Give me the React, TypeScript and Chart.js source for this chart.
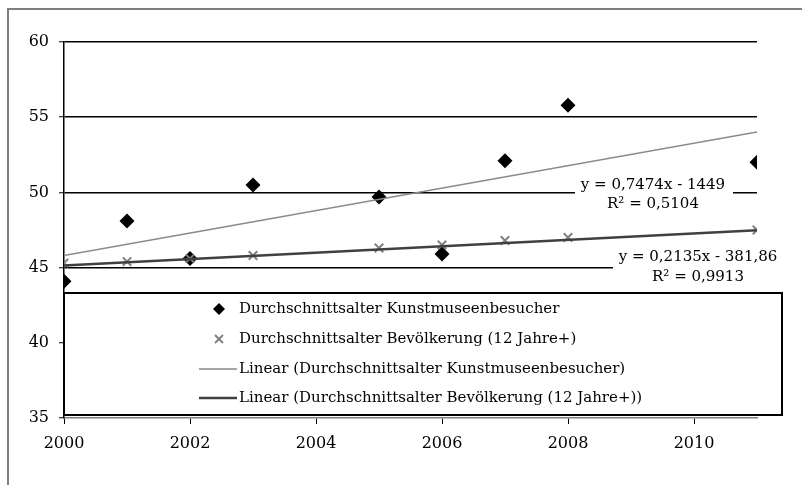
import { useEffect, useRef } from "react";
import { Chart, registerables } from "chart.js";

Chart.register(...registerables);

// ---- data ----
const years = [2000, 2001, 2002, 2003, 2005, 2006, 2007, 2008, 2011];
const museumAge = [44.1, 48.1, 45.6, 50.5, 49.7, 45.9, 52.1, 55.8, 52.0];
const populationAge = [45.3, 45.4, 45.6, 45.8, 46.3, 46.5, 46.8, 47.0, 47.5];
const seriesLabels = [
  "Durchschnittsalter Kunstmuseenbesucher",
  "Durchschnittsalter Bevölkerung (12 Jahre+)",
];
const trendSlopes = [0.7474, 0.2135];
const trendIntercepts = [-1449, -381.86];
const trendR2 = [0.5104, 0.9913];
const yMin = 35;
const yMax = 60;
const yStep = 5;
const xMin = 2000;
const xMax = 2011;
const xStep = 2;

const FONT = "'DejaVu Serif', 'Liberation Serif', serif";

const de = (v: number) => String(v).replace(".", ",");
const eqText = (i: number) =>
  `y = ${de(trendSlopes[i])}x ${trendIntercepts[i] < 0 ? "-" : "+"} ${de(Math.abs(trendIntercepts[i]))}`;
const r2Text = (i: number) => `R² = ${trendR2[i].toFixed(4).replace(".", ",")}`;

const trendData = (i: number) =>
  [years[0], years[years.length - 1]].map((x) => ({
    x,
    y: trendSlopes[i] * x + trendIntercepts[i],
  }));

function drawDiamond(ctx: CanvasRenderingContext2D, x: number, y: number, r: number) {
  ctx.beginPath();
  ctx.moveTo(x, y - r);
  ctx.lineTo(x + r, y);
  ctx.lineTo(x, y + r);
  ctx.lineTo(x - r, y);
  ctx.closePath();
  ctx.fill();
}
function drawCross(ctx: CanvasRenderingContext2D, x: number, y: number, r: number) {
  ctx.beginPath();
  ctx.moveTo(x - r, y - r);
  ctx.lineTo(x + r, y + r);
  ctx.moveTo(x + r, y - r);
  ctx.lineTo(x - r, y + r);
  ctx.stroke();
}

const decorPlugin = {
  id: "decor",
  beforeDraw(chart: any) {
    const ctx = chart.ctx as CanvasRenderingContext2D;
    ctx.save();
    ctx.fillStyle = "#fff";
    ctx.fillRect(0, 0, chart.width, chart.height);
    ctx.strokeStyle = "#7f7f7f";
    ctx.lineWidth = 2;
    ctx.beginPath();
    ctx.moveTo(8, chart.height + 5);
    ctx.lineTo(8, 9);
    ctx.lineTo(chart.width + 5, 9);
    ctx.stroke();
    ctx.restore();
  },
  afterDraw(chart: any) {
    const ctx = chart.ctx as CanvasRenderingContext2D;
    const area = chart.chartArea;
    ctx.save();
    // trendline labels
    const labels = [
      { box: [575, 176, 158, 37], cx: 653, y1: 185, y2: 204 },
      { box: [613, 246, 180, 42], cx: 698, y1: 257, y2: 277 },
    ];
    ctx.font = `15px ${FONT}`;
    ctx.textAlign = "center";
    ctx.textBaseline = "middle";
    labels.forEach((l, i) => {
      ctx.fillStyle = "#fff";
      ctx.fillRect(l.box[0], l.box[1], l.box[2], l.box[3]);
      ctx.fillStyle = "#000";
      ctx.fillText(eqText(i), l.cx, l.y1);
      ctx.fillText(r2Text(i), l.cx, l.y2);
    });

    // legend box
    const lx = area.left;
    const ly = 293;
    const lw = 718;
    const lh = 122;
    ctx.fillStyle = "#fff";
    ctx.fillRect(lx, ly, lw, lh);
    ctx.strokeStyle = "#000";
    ctx.lineWidth = 2;
    ctx.strokeRect(lx, ly, lw, lh);

    const ds = chart.data.datasets;
    const rowsY = [309, 339, 369, 398];
    const markX = 219;
    const textX = 239;
    ctx.textAlign = "left";
    ds.forEach((d: any, i: number) => {
      const y = rowsY[i];
      if (i === 0) {
        ctx.fillStyle = d.pointBackgroundColor;
        drawDiamond(ctx, markX, y, 6);
      } else if (i === 1) {
        ctx.strokeStyle = d.pointBorderColor;
        ctx.lineWidth = 2;
        drawCross(ctx, markX, y, 4);
      } else {
        ctx.strokeStyle = d.borderColor;
        ctx.lineWidth = d.borderWidth;
        ctx.beginPath();
        ctx.moveTo(199, y);
        ctx.lineTo(textX - 2, y);
        ctx.stroke();
      }
      ctx.fillStyle = "#000";
      ctx.fillText(d.label, textX, y);
    });
    ctx.restore();
  },
};

export default function App() {
  const ref = useRef<HTMLCanvasElement | null>(null);

  useEffect(() => {
    if (!ref.current) return;
    const chart = new Chart(ref.current, {
      type: "scatter",
      data: {
        datasets: [
          {
            label: seriesLabels[0],
            data: years.map((x, i) => ({ x, y: museumAge[i] })),
            pointStyle: "rectRot",
            pointRadius: 7.5,
            pointBackgroundColor: "#000",
            pointBorderColor: "#000",
            pointBorderWidth: 0,
            showLine: false,
            order: 3,
          },
          {
            label: seriesLabels[1],
            data: years.map((x, i) => ({ x, y: populationAge[i] })),
            pointStyle: "crossRot",
            pointRadius: 6,
            pointBackgroundColor: "#808080",
            pointBorderColor: "#808080",
            pointBorderWidth: 2,
            showLine: false,
            order: 2,
          },
          {
            label: `Linear (${seriesLabels[0]})`,
            data: trendData(0),
            showLine: true,
            borderColor: "#8a8a8a",
            borderWidth: 1.5,
            pointRadius: 0,
            order: 1,
          },
          {
            label: `Linear (${seriesLabels[1]})`,
            data: trendData(1),
            showLine: true,
            borderColor: "#404040",
            borderWidth: 2.5,
            pointRadius: 0,
            order: 0,
          },
        ] as any,
      },
      options: {
        animation: false,
        responsive: false,
        maintainAspectRatio: false,
        layout: { padding: { left: 8, top: 42, right: 45, bottom: 0 } },
        plugins: { legend: { display: false }, tooltip: { enabled: false } },
        scales: {
          x: {
            type: "linear",
            min: xMin,
            max: xMax,
            afterFit: (s: any) => {
              s.height = 67;
            },
            afterBuildTicks: (s: any) => {
              const t = [];
              for (let v = xMin; v < xMax; v += xStep) t.push({ value: v });
              s.ticks = t;
            },
            ticks: {
              color: "#000",
              font: { family: FONT, size: 16 },
              padding: 10,
              maxRotation: 0,
              callback: (v: any) => String(v),
            },
            grid: {
              drawOnChartArea: false,
              color: "#000",
              tickColor: "#000",
              tickLength: 6,
              tickWidth: 1,
            },
            border: { color: "#808080", width: 1.5 },
          },
          y: {
            min: yMin,
            max: yMax,
            afterFit: (s: any) => {
              s.width = 56;
            },
            ticks: {
              stepSize: yStep,
              color: "#000",
              font: { family: FONT, size: 16 },
              padding: 10,
            },
            grid: {
              color: (c: any) => (c.tick && c.tick.value === yMin ? "rgba(0,0,0,0)" : "#000"),
              lineWidth: 1.5,
              tickColor: "#000",
              tickLength: 5,
              tickWidth: 1,
            },
            border: { color: "#000", width: 1.5 },
          },
        },
      },
      plugins: [decorPlugin],
    });
    return () => chart.destroy();
  }, []);

  return (
    <div style={{ position: "fixed", left: 0, top: 0, width: 802, height: 485 }}>
      <canvas ref={ref} width={802} height={485} style={{ display: "block" }} />
    </div>
  );
}
